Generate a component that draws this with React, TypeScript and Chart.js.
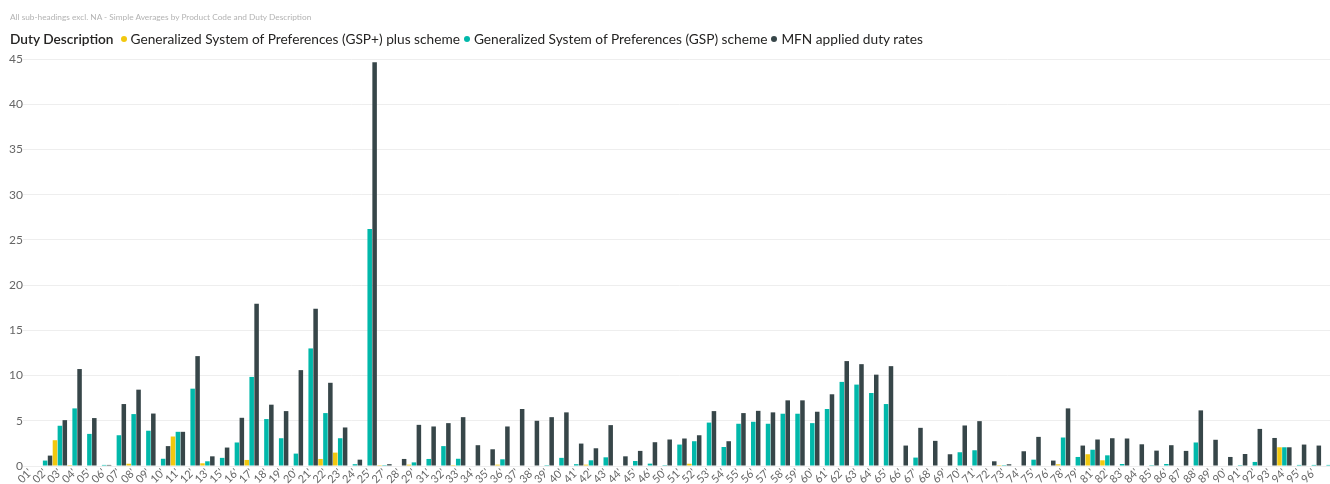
import React, { useEffect, useRef } from "react";
import { Chart, registerables } from "chart.js";

Chart.register(...registerables);

const FONT = '"Segoe UI", Lato, "Open Sans", sans-serif';

const titleText = "All sub-headings excl. NA - Simple Averages by Product Code and Duty Description";
const legendTitle = "Duty Description";
const seriesNames = [
  "Generalized System of Preferences (GSP+) plus scheme",
  "Generalized System of Preferences (GSP) scheme",
  "MFN applied duty rates",
];
const seriesColors = ["#F2C80F", "#01B8AA", "#374649"];

const categories = [
  "01'", "02'", "03'", "04'", "05'", "06'", "07'", "08'", "09'", "10'", "11'", "12'", "13'",
  "15'", "16'", "17'", "18'", "19'", "20'", "21'", "22'", "23'", "24'", "25'",
  "27'", "28'", "29'",
  "31'", "32'", "33'", "34'", "35'", "36'", "37'", "38'", "39'", "40'", "41'", "42'", "43'", "44'", "45'", "46'",
  "50'", "51'", "52'", "53'", "54'", "55'", "56'", "57'", "58'", "59'", "60'", "61'", "62'", "63'", "64'", "65'",
  "66'", "67'", "68'", "69'", "70'", "71'", "72'", "73'", "74'", "75'", "76'",
  "78'", "79'",
  "81'", "82'", "83'", "84'", "85'", "86'", "87'", "88'", "89'", "90'", "91'", "92'", "93'", "94'", "95'", "96'",
  "97'",
];

const gspPlus = [
  null, null, 2.85, 0.1, null, null, null, 0.25, null, null, 3.26, null, 0.3,
  null, null, 0.67, null, null, null, null, 0.78, 1.48, null, null,
  0.1, null, 0.15,
  null, null, 0.1, null, null, 0.15, null, null, null, null, null, 0.15, null, null, null, null,
  null, null, 0.25, null, null, null, null, null, null, null, null, null, null, null, null, null,
  null, null, null, null, null, null, null, 0.1, null, null, null,
  0.19, null,
  1.3, 0.63, null, null, null, null, null, null, null, null, null, null, null, 2.07, null, null,
  null,
];

const gsp = [
  null, 0.6, 4.45, 6.37, 3.55, 0.12, 3.4, 5.74, 3.9, 0.8, 3.78, 8.55, 0.52,
  0.9, 2.6, 9.85, 5.19, 3.07, 1.37, 13.0, 5.85, 3.07, 0.2, 26.2,
  0.1, null, 0.4,
  0.78, 2.2, 0.8, null, null, 0.74, null, null, 0.1, 0.9, 0.2, 0.63, 0.96, null, 0.55, 0.26,
  0.1, 2.37, 2.74, 4.8, 2.1, 4.67, 4.89, 4.67, 5.78, 5.78, 4.74, 6.3, 9.3, 9.0, 8.07, 6.85,
  null, 0.93, null, null, 1.52, 1.74, null, 0.1, null, 0.7, null,
  3.15, 1.0,
  1.8, 1.18, 0.22, null, 0.1, 0.22, null, 2.6, null, null, 0.1, 0.45, null, 2.07, 0.12, 0.12,
  0.12,
];

const mfn = [
  null, 1.15, 5.07, 10.72, 5.3, 0.12, 6.85, 8.44, 5.8, 2.2, 3.78, 12.15, 1.07,
  2.04, 5.33, 17.95, 6.78, 6.07, 10.6, 17.4, 9.2, 4.26, 0.7, 44.65,
  0.2, 0.78, 4.55,
  4.37, 4.74, 5.4, 2.3, 1.85, 4.37, 6.3, 5.0, 5.4, 5.93, 2.48, 1.96, 4.52, 1.07, 1.67, 2.63,
  2.93, 3.04, 3.4, 6.07, 2.74, 5.85, 6.1, 5.93, 7.26, 7.26, 6.0, 7.93, 11.6, 11.26, 10.1, 11.04,
  2.26, 4.22, 2.78, 1.3, 4.48, 4.96, 0.52, 0.19, 1.63, 3.22, 0.6,
  6.37, 2.26,
  2.93, 3.07, 3.04, 2.4, 1.7, 2.3, 1.67, 6.15, 2.9, 1.0, 1.33, 4.1, 3.1, 2.07, 2.37, 2.26,
  2.0,
];

const yMax = 45;
const yStep = 5;

export default function App() {
  const canvasRef = useRef<HTMLCanvasElement | null>(null);

  useEffect(() => {
    const canvas = canvasRef.current;
    if (!canvas) return;
    const seriesData = [gspPlus, gsp, mfn];
    const lastIndex = categories.length - 1;
    const chart = new Chart(canvas, {
      type: "bar",
      data: {
        labels: categories,
        datasets: seriesNames.map((name, i) => ({
          label: name,
          data: seriesData[i],
          backgroundColor: seriesColors[i],
          borderWidth: 0,
          barPercentage: 0.92,
          categoryPercentage: 1.0,
        })),
      },
      options: {
        responsive: false,
        animation: false,
        layout: { padding: { top: 59, left: 0, right: 0, bottom: 0 } },
        plugins: {
          legend: { display: false },
          tooltip: { enabled: false },
          title: { display: false },
        },
        scales: {
          x: {
            type: "category",
            offset: true,
            grid: { display: false, drawTicks: false },
            border: { display: false },
            ticks: {
              autoSkip: false,
              minRotation: 45,
              maxRotation: 45,
              padding: 0,
              color: "#666666",
              font: { family: FONT, size: 11 },
              callback: (_v: any, idx: number) => (idx === lastIndex ? "" : categories[idx]),
            },
            afterFit: (s: any) => {
              s.height = 18;
            },
          },
          y: {
            min: 0,
            max: yMax,
            ticks: {
              stepSize: yStep,
              padding: 0,
              color: "#666666",
              font: { family: FONT, size: 12 },
            },
            grid: { color: "#eeeeee", drawTicks: false },
            border: { display: false },
            afterFit: (s: any) => {
              s.width = 23;
            },
          },
        },
      },
    });
    return () => chart.destroy();
  }, []);

  return (
    <div
      style={{
        position: "absolute",
        left: 0,
        top: 0,
        width: 1330,
        height: 484,
        overflow: "hidden",
        background: "#ffffff",
        fontFamily: FONT,
      }}
    >
      <canvas
        ref={canvasRef}
        width={1338}
        height={484}
        style={{ position: "absolute", left: 0, top: 0, width: 1338, height: 484 }}
      />
      <div
        style={{
          position: "absolute",
          left: 10,
          top: 12,
          fontSize: 8.3,
          color: "#b3b3b3",
          whiteSpace: "nowrap",
          lineHeight: "10px",
        }}
      >
        {titleText}
      </div>
      <div
        style={{
          position: "absolute",
          left: 10,
          top: 30,
          fontSize: 13.7,
          lineHeight: "18px",
          color: "#252423",
          whiteSpace: "nowrap",
          display: "flex",
          alignItems: "center",
        }}
      >
        <span style={{ fontWeight: 600, marginRight: 7 }}>{legendTitle}</span>
        {seriesNames.map((name, i) => (
          <span key={name} style={{ display: "inline-flex", alignItems: "center", marginRight: 4 }}>
            <span
              style={{
                display: "inline-block",
                width: 6,
                height: 6,
                borderRadius: "50%",
                background: seriesColors[i],
                marginRight: 4,
              }}
            />
            <span>{name}</span>
          </span>
        ))}
      </div>
    </div>
  );
}
